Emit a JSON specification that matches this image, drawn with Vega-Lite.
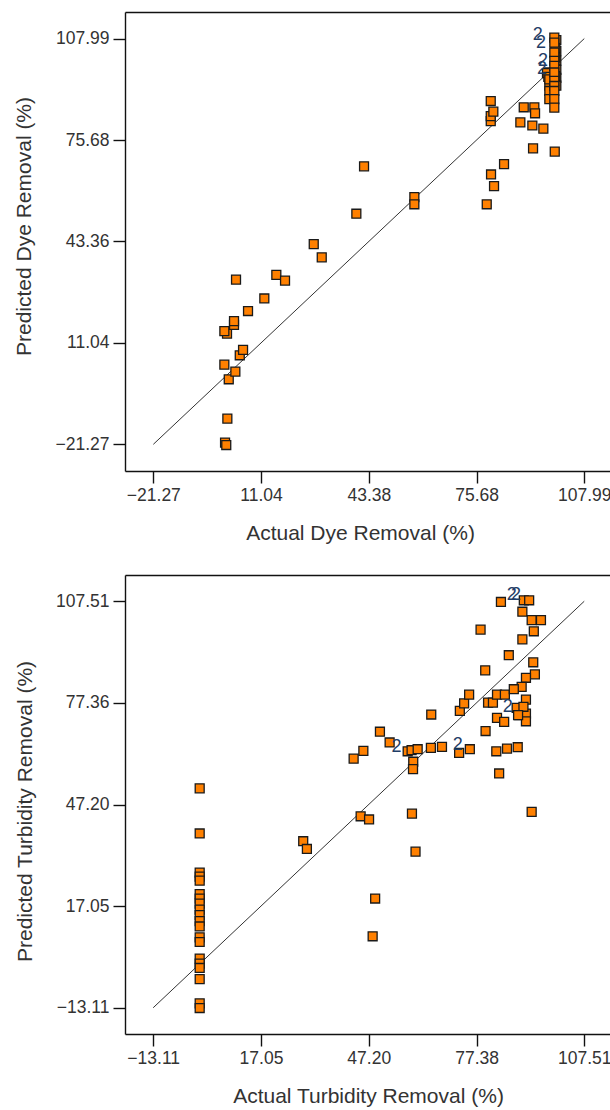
{
  "$schema": "https://vega.github.io/schema/vega-lite/v6.json",
  "background": "white",
  "padding": {"left": 13, "top": 12, "right": 0, "bottom": 0},
  "spacing": 31,
  "config": {
    "font": "Liberation Sans",
    "view": {"stroke": null},
    "axis": {
      "labelFontSize": 17.5,
      "titleFontSize": 21,
      "titleFontWeight": "normal",
      "labelColor": "#333333",
      "titleColor": "#333333",
      "domainColor": "#111111",
      "tickColor": "#111111",
      "domainWidth": 1.4,
      "tickWidth": 1.4,
      "tickSize": 12,
      "grid": false,
      "labelFlush": false,
      "labelOverlap": false
    },
    "axisY": {"labelPadding": 4, "titlePadding": 20},
    "axisX": {"labelPadding": 3, "titlePadding": 19}
  },
  "datasets": {
    "dyeLine": [
      {"actual": -21.27, "predicted": -21.27},
      {"actual": 107.99, "predicted": 107.99}
    ],
    "turbLine": [
      {"actual": -13.11, "predicted": -13.11},
      {"actual": 107.51, "predicted": 107.51}
    ],
    "dye": [
      {"actual": 0.24, "predicted": -20.7}, {"actual": 0.6, "predicted": -21.5},
      {"actual": 0.93, "predicted": -13.07}, {"actual": 1.35, "predicted": -0.55},
      {"actual": 3.33, "predicted": 1.9}, {"actual": 0.03, "predicted": 4.1},
      {"actual": 4.65, "predicted": 7.1}, {"actual": 5.64, "predicted": 8.8},
      {"actual": 0.83, "predicted": 14.0}, {"actual": 0.03, "predicted": 14.8},
      {"actual": 2.93, "predicted": 16.8}, {"actual": 2.93, "predicted": 18.0},
      {"actual": 7.13, "predicted": 21.2}, {"actual": 12.02, "predicted": 25.2},
      {"actual": 3.53, "predicted": 31.2}, {"actual": 15.62, "predicted": 32.7},
      {"actual": 18.23, "predicted": 30.9}, {"actual": 26.84, "predicted": 42.5},
      {"actual": 29.24, "predicted": 38.3}, {"actual": 39.62, "predicted": 52.2},
      {"actual": 41.93, "predicted": 67.3}, {"actual": 57.02, "predicted": 57.5},
      {"actual": 57.02, "predicted": 55.2}, {"actual": 78.73, "predicted": 55.2},
      {"actual": 80.92, "predicted": 61.0}, {"actual": 80.02, "predicted": 64.7},
      {"actual": 83.92, "predicted": 68.0}, {"actual": 79.93, "predicted": 88.1},
      {"actual": 79.93, "predicted": 81.7}, {"actual": 79.93, "predicted": 83.3},
      {"actual": 80.71, "predicted": 84.7}, {"actual": 88.81, "predicted": 81.3},
      {"actual": 89.83, "predicted": 86.1}, {"actual": 93.01, "predicted": 86.1},
      {"actual": 93.22, "predicted": 84.2}, {"actual": 92.41, "predicted": 80.3},
      {"actual": 95.71, "predicted": 79.3}, {"actual": 92.62, "predicted": 73.0},
      {"actual": 99.13, "predicted": 72.0},
      {"actual": 99.6, "predicted": 107.5}, {"actual": 99.6, "predicted": 104.0},
      {"actual": 99.6, "predicted": 101.0}, {"actual": 99.6, "predicted": 98.0},
      {"actual": 99.6, "predicted": 95.5}, {"actual": 99.6, "predicted": 93.0},
      {"actual": 99.3, "predicted": 105.0}, {"actual": 99.3, "predicted": 102.0},
      {"actual": 99.3, "predicted": 96.0},
      {"actual": 97.5, "predicted": 97.2}, {"actual": 97.5, "predicted": 93.0},
      {"actual": 96.8, "predicted": 97.0}, {"actual": 97.2, "predicted": 95.8},
      {"actual": 97.5, "predicted": 95.0}, {"actual": 97.5, "predicted": 91.3},
      {"actual": 97.5, "predicted": 88.7},
      {"actual": 99.0, "predicted": 108.3}, {"actual": 99.0, "predicted": 106.7},
      {"actual": 99.0, "predicted": 103.5}, {"actual": 99.0, "predicted": 100.9},
      {"actual": 99.0, "predicted": 99.3}, {"actual": 99.0, "predicted": 97.2},
      {"actual": 99.0, "predicted": 94.5}, {"actual": 99.0, "predicted": 92.9},
      {"actual": 99.0, "predicted": 91.3}, {"actual": 99.0, "predicted": 88.7},
      {"actual": 99.0, "predicted": 86.0}
    ],
    "dyeLab": [
      {"actual": 94.0, "predicted": 109.1, "count": "2"},
      {"actual": 95.0, "predicted": 106.7, "count": "2"},
      {"actual": 95.6, "predicted": 100.9, "count": "2"},
      {"actual": 95.3, "predicted": 98.2, "count": "2"}
    ],
    "turb": [
      {"actual": -0.1, "predicted": 52.0}, {"actual": -0.1, "predicted": 38.6},
      {"actual": -0.1, "predicted": 27.0}, {"actual": -0.1, "predicted": 25.8},
      {"actual": -0.1, "predicted": 24.6}, {"actual": -0.1, "predicted": 20.6},
      {"actual": -0.1, "predicted": 19.3}, {"actual": -0.1, "predicted": 17.8},
      {"actual": -0.1, "predicted": 16.0}, {"actual": -0.1, "predicted": 14.4},
      {"actual": -0.1, "predicted": 12.6}, {"actual": -0.1, "predicted": 11.0},
      {"actual": -0.1, "predicted": 7.8}, {"actual": -0.1, "predicted": 6.4},
      {"actual": -0.1, "predicted": 1.5}, {"actual": -0.1, "predicted": 0.0},
      {"actual": -0.1, "predicted": -1.3}, {"actual": -0.1, "predicted": -4.6},
      {"actual": -0.1, "predicted": -11.8}, {"actual": -0.1, "predicted": -13.2},
      {"actual": 28.87, "predicted": 36.3}, {"actual": 29.9, "predicted": 34.0},
      {"actual": 44.94, "predicted": 43.7}, {"actual": 47.3, "predicted": 42.75},
      {"actual": 59.3, "predicted": 44.5}, {"actual": 60.3, "predicted": 33.2},
      {"actual": 49.0, "predicted": 19.3}, {"actual": 48.3, "predicted": 8.1},
      {"actual": 92.8, "predicted": 45.0},
      {"actual": 42.98, "predicted": 60.8}, {"actual": 45.7, "predicted": 63.1},
      {"actual": 50.34, "predicted": 68.8}, {"actual": 53.05, "predicted": 65.6},
      {"actual": 58.1, "predicted": 63.0}, {"actual": 59.2, "predicted": 63.3},
      {"actual": 60.9, "predicted": 63.6}, {"actual": 59.66, "predicted": 59.9},
      {"actual": 59.6, "predicted": 57.7}, {"actual": 64.6, "predicted": 64.0},
      {"actual": 67.7, "predicted": 64.3}, {"actual": 64.7, "predicted": 73.9},
      {"actual": 72.5, "predicted": 62.5}, {"actual": 75.5, "predicted": 63.6},
      {"actual": 72.7, "predicted": 75.0}, {"actual": 73.9, "predicted": 77.2},
      {"actual": 75.3, "predicted": 79.8}, {"actual": 79.8, "predicted": 87.0},
      {"actual": 78.5, "predicted": 99.1}, {"actual": 79.9, "predicted": 69.0},
      {"actual": 80.6, "predicted": 77.45}, {"actual": 81.96, "predicted": 77.45},
      {"actual": 83.1, "predicted": 79.8}, {"actual": 85.3, "predicted": 79.8},
      {"actual": 83.1, "predicted": 72.9}, {"actual": 85.1, "predicted": 71.7},
      {"actual": 82.9, "predicted": 63.0}, {"actual": 85.9, "predicted": 63.8},
      {"actual": 88.9, "predicted": 64.2}, {"actual": 83.7, "predicted": 56.4},
      {"actual": 86.4, "predicted": 91.5}, {"actual": 84.2, "predicted": 107.3},
      {"actual": 90.6, "predicted": 107.8}, {"actual": 92.1, "predicted": 107.8},
      {"actual": 90.2, "predicted": 104.4}, {"actual": 92.8, "predicted": 101.9},
      {"actual": 95.4, "predicted": 101.9}, {"actual": 93.4, "predicted": 98.6},
      {"actual": 90.2, "predicted": 96.2}, {"actual": 93.24, "predicted": 89.4},
      {"actual": 93.7, "predicted": 85.8}, {"actual": 91.2, "predicted": 84.8},
      {"actual": 90.0, "predicted": 82.1}, {"actual": 87.8, "predicted": 81.4},
      {"actual": 91.2, "predicted": 78.3}, {"actual": 88.6, "predicted": 75.9},
      {"actual": 89.3, "predicted": 73.7}, {"actual": 91.2, "predicted": 74.2},
      {"actual": 91.2, "predicted": 71.9}, {"actual": 90.5, "predicted": 76.2},
      {"actual": 89.0, "predicted": 73.7}
    ],
    "turbLab": [
      {"actual": 55.0, "predicted": 64.2, "count": "2"},
      {"actual": 72.1, "predicted": 65.0, "count": "2"},
      {"actual": 86.1, "predicted": 76.2, "count": "2"},
      {"actual": 87.2, "predicted": 109.3, "count": "2"},
      {"actual": 88.4, "predicted": 109.3, "count": "2"}
    ]
  },
  "vconcat": [
    {
      "width": 486,
      "height": 459,
      "resolve": {"axis": {"x": "independent"}},
      "layer": [
        {
          "data": {"name": "dyeLine"},
          "mark": {"type": "line", "color": "#333333", "strokeWidth": 1},
          "encoding": {
            "x": {"field": "actual", "type": "quantitative",
              "scale": {"domain": [-29.77, 116.0], "nice": false, "zero": false},
              "axis": {"orient": "top", "labels": false, "ticks": false, "title": null, "domain": true}},
            "y": {"field": "predicted", "type": "quantitative",
              "scale": {"domain": [-29.77, 116.46], "nice": false, "zero": false}}
          }
        },
        {
          "data": {"name": "dye"},
          "mark": {"type": "square", "color": "#FF8000", "stroke": "#1a1a1a", "strokeWidth": 1.3, "size": 80, "opacity": 1},
          "encoding": {
            "x": {"field": "actual", "type": "quantitative",
              "axis": {"values": [-21.27, 11.04, 43.38, 75.68, 107.99], "format": ".2f", "title": "Actual Dye Removal (%)", "titleX": 235}},
            "y": {"field": "predicted", "type": "quantitative",
              "axis": {"values": [-21.27, 11.04, 43.36, 75.68, 107.99], "format": ".2f", "title": "Predicted Dye Removal (%)", "titleY": 214}}
          }
        },
        {
          "data": {"name": "dyeLab"},
          "mark": {"type": "text", "fontSize": 18, "color": "#1f3d66"},
          "encoding": {
            "x": {"field": "actual", "type": "quantitative", "axis": null},
            "y": {"field": "predicted", "type": "quantitative"},
            "text": {"field": "count"}
          }
        }
      ]
    },
    {
      "width": 486,
      "height": 459,
      "resolve": {"axis": {"x": "independent"}},
      "layer": [
        {
          "data": {"name": "turbLine"},
          "mark": {"type": "line", "color": "#333333", "strokeWidth": 1},
          "encoding": {
            "x": {"field": "actual", "type": "quantitative",
              "scale": {"domain": [-21.0, 115.0], "nice": false, "zero": false},
              "axis": {"orient": "top", "labels": false, "ticks": false, "title": null, "domain": true}},
            "y": {"field": "predicted", "type": "quantitative",
              "scale": {"domain": [-20.9, 115.3], "nice": false, "zero": false}}
          }
        },
        {
          "data": {"name": "turb"},
          "mark": {"type": "square", "color": "#FF8000", "stroke": "#1a1a1a", "strokeWidth": 1.3, "size": 80, "opacity": 1},
          "encoding": {
            "x": {"field": "actual", "type": "quantitative",
              "axis": {"values": [-13.11, 17.05, 47.2, 77.38, 107.51], "format": ".2f", "title": "Actual Turbidity Removal (%)"}},
            "y": {"field": "predicted", "type": "quantitative",
              "axis": {"values": [-13.11, 17.05, 47.2, 77.36, 107.51], "format": ".2f", "title": "Predicted Turbidity Removal (%)", "titleY": 236}}
          }
        },
        {
          "data": {"name": "turbLab"},
          "mark": {"type": "text", "fontSize": 18, "color": "#1f3d66"},
          "encoding": {
            "x": {"field": "actual", "type": "quantitative", "axis": null},
            "y": {"field": "predicted", "type": "quantitative"},
            "text": {"field": "count"}
          }
        }
      ]
    }
  ]
}
